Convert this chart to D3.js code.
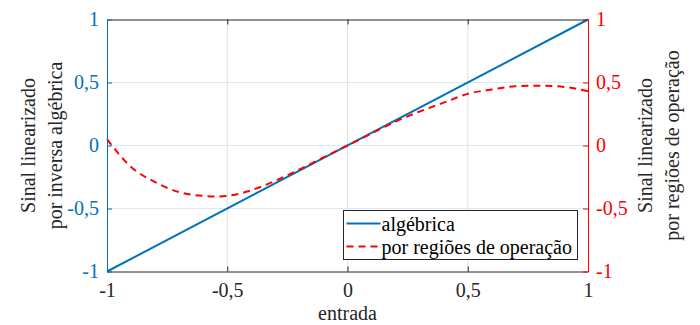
<!DOCTYPE html>
<html>
<head>
<meta charset="UTF-8">
<title>Sinal linearizado</title>
<script src="https://d3js.org/d3.v7.min.js"></script>
<style>
  body { margin: 0; background: #fff; }
</style>
</head>
<body>
<svg id="chart" width="700" height="325"></svg>
<script>
// data
const xTicks = [-1, -0.5, 0, 0.5, 1];
const yTicks = [-1, -0.5, 0, 0.5, 1];
const algX = [-1, 1];
const algY = [-1, 1];
const regX = [-1, -0.9, -0.8, -0.7, -0.6, -0.55, -0.5, -0.4, -0.3, -0.2, -0.1, 0, 0.1, 0.2, 0.3, 0.4, 0.5, 0.6, 0.7, 0.8, 0.9, 1];
const regY = [0.05, -0.17, -0.29, -0.37, -0.40, -0.405, -0.40, -0.355, -0.28, -0.19, -0.095, 0, 0.095, 0.19, 0.27, 0.34, 0.41, 0.445, 0.47, 0.475, 0.465, 0.43];

const blue = "#0072BD", red = "#FF0000", dark = "#262626";
const FONT = '"Liberation Serif"';
const m = {left: 107, right: 112, top: 19.5, bottom: 53.5};
const W = 700, H = 325;
const fmt = d => String(d).replace(".", ",");

const svg = d3.select("#chart");
const x = d3.scaleLinear().domain([-1, 1]).range([m.left, W - m.right]);
const yL = d3.scaleLinear().domain([-1, 1]).range([H - m.bottom, m.top]);
const yR = d3.scaleLinear().domain([-1, 1]).range([H - m.bottom, m.top]);

// grid
svg.append("g").attr("stroke", "#e0e0e0")
  .selectAll("line").data(xTicks.slice(1, -1)).join("line")
  .attr("x1", d => x(d)).attr("x2", d => x(d))
  .attr("y1", m.top).attr("y2", H - m.bottom);
svg.append("g").attr("stroke", "#d9eaf5")
  .selectAll("line").data(yTicks.slice(1, -1)).join("line")
  .attr("x1", m.left).attr("x2", W - m.right)
  .attr("y1", d => yL(d)).attr("y2", d => yL(d));

// lines
const lineA = d3.line().x(d => x(d[0])).y(d => yL(d[1]));
const lineR = d3.line().x(d => x(d[0])).y(d => yR(d[1])).curve(d3.curveMonotoneX);
svg.append("path").datum(algX.map((v, i) => [v, algY[i]]))
  .attr("d", lineA).attr("fill", "none").attr("stroke", blue).attr("stroke-width", 2);
svg.append("path").datum(regX.map((v, i) => [v, regY[i]]))
  .attr("d", lineR).attr("fill", "none").attr("stroke", red).attr("stroke-width", 2)
  .attr("stroke-dasharray", "7,5");

// axes
const tickSize = 5;
const xAxis = svg.append("g").attr("transform", `translate(0,${H - m.bottom})`)
  .call(d3.axisBottom(x).tickValues(xTicks).tickFormat(fmt).tickSizeInner(-tickSize).tickSizeOuter(0).tickPadding(11));
xAxis.selectAll("line, path").attr("stroke", dark);
xAxis.selectAll("text").attr("fill", dark);

const xTop = svg.append("g").attr("transform", `translate(0,${m.top})`)
  .call(d3.axisTop(x).tickValues(xTicks).tickFormat("").tickSizeInner(-tickSize).tickSizeOuter(0));
xTop.selectAll("line, path").attr("stroke", dark);

const yAxisL = svg.append("g").attr("transform", `translate(${m.left},0)`)
  .call(d3.axisLeft(yL).tickValues(yTicks).tickFormat(fmt).tickSizeInner(-tickSize).tickSizeOuter(0).tickPadding(8));
yAxisL.selectAll("line, path").attr("stroke", blue);
yAxisL.selectAll("text").attr("fill", blue);

const yAxisR = svg.append("g").attr("transform", `translate(${W - m.right},0)`)
  .call(d3.axisRight(yR).tickValues(yTicks).tickFormat(fmt).tickSizeInner(-tickSize).tickSizeOuter(0).tickPadding(8));
yAxisR.selectAll("line, path").attr("stroke", red);
yAxisR.selectAll("text").attr("fill", red);

// axis labels
svg.append("text").attr("x", (m.left + W - m.right) / 2).attr("y", 320)
  .attr("text-anchor", "middle").attr("fill", dark).text("entrada");

const cy = (m.top + H - m.bottom) / 2;
const leftLab = svg.append("text").attr("transform", `translate(35,${cy}) rotate(-90)`)
  .attr("text-anchor", "middle").attr("fill", dark);
leftLab.append("tspan").attr("x", 0).attr("dy", 0).text("Sinal linearizado");
leftLab.append("tspan").attr("x", 0).attr("dy", 27).text("por inversa algébrica");

const rightLab = svg.append("text").attr("transform", `translate(652,${cy}) rotate(-90)`)
  .attr("text-anchor", "middle").attr("fill", dark);
rightLab.append("tspan").attr("x", 0).attr("dy", 0).text("Sinal linearizado");
rightLab.append("tspan").attr("x", 0).attr("dy", 27).text("por regiões de operação");

// legend
const lg = svg.append("g").attr("transform", "translate(343.5,210.5)");
lg.append("rect").attr("width", 234).attr("height", 49)
  .attr("fill", "#fff").attr("stroke", dark).attr("stroke-width", 1);
const items = [
  {label: "algébrica", color: blue, dash: null},
  {label: "por regiões de operação", color: red, dash: "7,5"}
];
items.forEach((it, i) => {
  const yy = 13 + i * 23;
  lg.append("line").attr("x1", 3).attr("x2", 37).attr("y1", yy).attr("y2", yy)
    .attr("stroke", it.color).attr("stroke-width", 2).attr("stroke-dasharray", it.dash);
  lg.append("text").attr("x", 38).attr("y", yy + 7)
    .attr("fill", "#000").text(it.label);
});

// fonts applied inline so nothing overrides them
svg.selectAll("g").attr("font-family", null);
svg.selectAll("text").style("font-family", FONT).style("font-size", "20px");
</script>
</body>
</html>
